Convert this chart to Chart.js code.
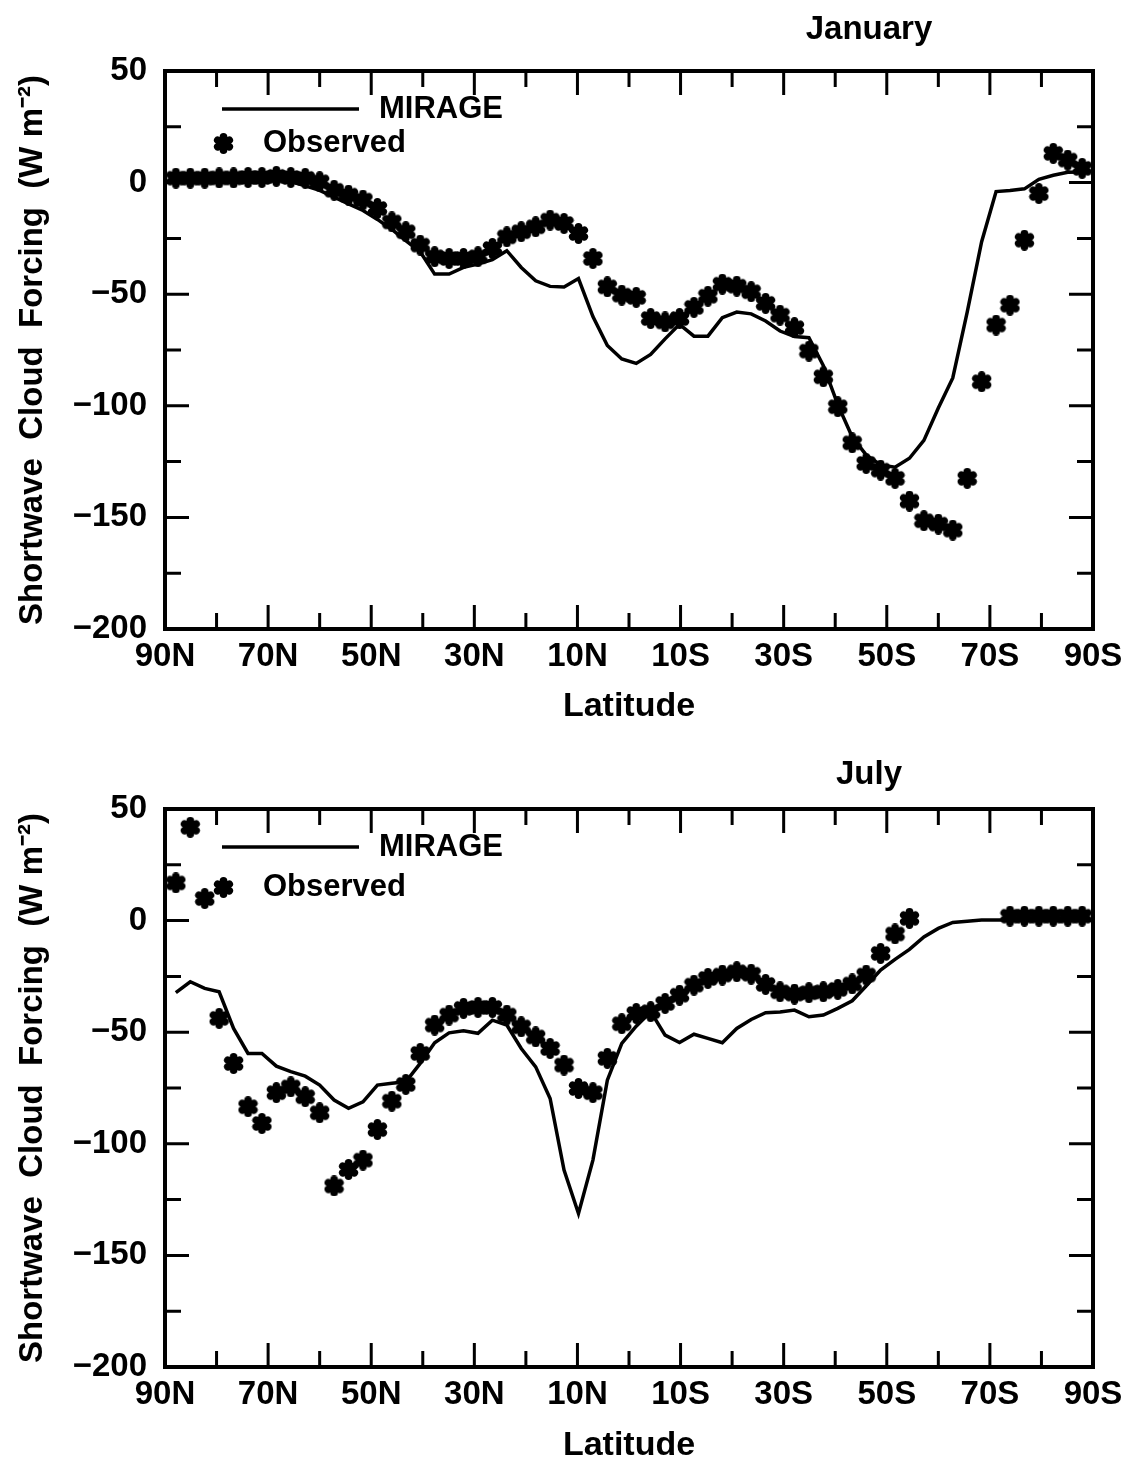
<!DOCTYPE html>
<html>
<head>
<meta charset="utf-8">
<script src="https://cdn.jsdelivr.net/npm/chart.js@4.4.0/dist/chart.umd.min.js"></script>
<style>
  html, body { margin: 0; padding: 0; background: #fff; overflow: hidden; }
  .panel { position: absolute; left: 0; }
</style>
</head>
<body>
<div class="panel" style="top:0"><canvas id="jan" width="1133" height="740"></canvas></div>
<div class="panel" style="top:740px"><canvas id="jul" width="1133" height="722"></canvas></div>
<script>
// model grid latitudes (N positive)
const latitudes = [
  87.9, 85.1, 82.3, 79.5, 76.7, 73.9, 71.2, 68.4, 65.6, 62.8, 60.0, 57.2, 54.4, 51.6, 48.8, 46.0,
  43.3, 40.5, 37.7, 34.9, 32.1, 29.3, 26.5, 23.7, 20.9, 18.1, 15.3, 12.6, 9.8, 7.0, 4.2, 1.4,
  -1.4, -4.2, -7.0, -9.8, -12.6, -15.3, -18.1, -20.9, -23.7, -26.5, -29.3, -32.1, -34.9, -37.7, -40.5, -43.3,
  -46.0, -48.8, -51.6, -54.4, -57.2, -60.0, -62.8, -65.6, -68.4, -71.2, -73.9, -76.7, -79.5, -82.3, -85.1, -87.9
];

// January
const janMirage = [
  2, 2, 2, 2, 2, 2, 2, 1.5, 0.5, -1.5, -3.5, -6.5, -9.5, -12.5, -16.5, -21,
  -26, -31, -41, -41, -38, -36.5, -34.5, -30.5, -38, -44, -46.5, -46.8, -43, -60, -73, -79,
  -81, -77, -70, -63.5, -68.8, -68.8, -60.5, -58, -58.8, -62, -66.5, -69, -69.5, -82, -99.5, -114,
  -122, -126.5, -127.5, -123.5, -115.5, -101, -87.5, -58, -26.5, -4, -3.5, -2.8, 1.5, 3.3, 4.6, 4.8
];
const janObserved = [
  2, 2, 2, 2.1, 2.1, 2.3, 2.3, 2.8, 2.3, 1.9, 0.4, -3.4, -5.6, -7.8, -11.6, -17.6,
  -22, -28, -33.2, -34, -34, -33.2, -29.5, -24.3, -22, -19.8, -16.8, -18.3, -22.8, -34, -46.7, -50.4,
  -51.4, -60.9, -62.4, -60.9, -55.9, -50.9, -45.5, -46.4, -48.9, -54.1, -59.4, -65, -75.5, -87, -100.4, -116.6,
  -125.8, -128.8, -132.5, -142.7, -151.5, -153, -155.7, -132.5, -89.2, -63.8, -54.9, -25.8, -4.9, 13.1, 10.1, 6.4
];

// July
const julMirage = [
  -32.3, -27.4, -30.4, -31.9, -48.3, -59.5, -59.5, -65.2, -67.7, -69.7, -73.7, -80.4, -84.1, -81.2, -73.7, -72.9,
  -72.2, -64.0, -54.7, -50.3, -49.4, -50.5, -44.6, -46.8, -57.3, -65.5, -79.7, -111.8, -131.2, -107.3, -71.5, -55.0,
  -47.3, -40.8, -51.3, -54.6, -50.9, -52.8, -54.7, -48.3, -44.3, -41.3, -40.9, -40.1, -43.1, -42.3, -39.3, -35.9,
  -29.3, -22.2, -17.4, -12.9, -7.3, -3.5, -0.8, -0.3, 0.3, 0.3, 0.3, 0.3, 0.3, 0.3, 0.3, 0.3
];
const julObserved = [
  16.9, 41.8, 9.9, -43.8, -64.0, -83.4, -90.9, -77.1, -74.5, -78.9, -86.1, -118.9, -111.5, -107.3, -93.6, -80.9,
  -73.4, -59.5, -46.8, -42.3, -39.3, -38.9, -38.9, -42.3, -47.6, -52.1, -57.3, -64.7, -75.2, -77.1, -61.7, -46.2,
  -41.6, -40.8, -37.1, -33.4, -28.9, -25.9, -24.4, -22.9, -24.0, -28.6, -31.9, -32.9, -32.3, -31.9, -30.8, -28.4,
  -24.4, -14.7, -6.0, 1.0, null, null, null, null, null, null, 2.0, 2.0, 2.0, 2.0, 2.0, 2.0
];

// axis ticks
const latTickValues = [90, 70, 50, 30, 10, -10, -30, -50, -70, -90];
const latTickLabels = ['90N', '70N', '50N', '30N', '10N', '10S', '30S', '50S', '70S', '90S'];
const forcingTickValues = [50, 0, -50, -100, -150, -200];
const forcingTickLabels = ['50', '0', '−50', '−100', '−150', '−200'];

const FONT = '"Liberation Sans", Arial, sans-serif';

// bold six-armed asterisk used for observed points
function makeStar(size) {
  const c = document.createElement('canvas');
  c.width = c.height = size;
  const g = c.getContext('2d');
  const r = size / 2;
  g.translate(r, r);
  g.strokeStyle = '#000';
  g.fillStyle = '#000';
  g.lineWidth = size * 0.36;
  g.lineCap = 'round';
  for (let k = 0; k < 3; k++) {
    const a = Math.PI / 2 + k * Math.PI / 3;
    const d = r - g.lineWidth / 2;
    g.beginPath();
    g.moveTo(Math.cos(a) * d, Math.sin(a) * d);
    g.lineTo(-Math.cos(a) * d, -Math.sin(a) * d);
    g.stroke();
  }
  g.beginPath();
  g.arc(0, 0, r * 0.6, 0, Math.PI * 2);
  g.fill();
  return c;
}
const star = makeStar(21);

// frame, inward ticks, legend and month title
const panelPlugin = {
  id: 'panel',
  afterDraw(chart, args, opts) {
    const { ctx, chartArea: a, scales: { x, y } } = chart;
    ctx.save();
    ctx.strokeStyle = '#000';
    ctx.lineWidth = 3;
    ctx.beginPath();
    for (let v = x.min + 10; v < x.max; v += 10) {
      const px = x.getPixelForValue(v);
      const len = latTickValues.includes(v) ? 24 : 16;
      ctx.moveTo(px, a.bottom); ctx.lineTo(px, a.bottom - len);
      ctx.moveTo(px, a.top); ctx.lineTo(px, a.top + len);
    }
    for (let v = y.min + 25; v < y.max; v += 25) {
      const py = y.getPixelForValue(v);
      const len = forcingTickValues.includes(v) ? 24 : 16;
      ctx.moveTo(a.left, py); ctx.lineTo(a.left + len, py);
      ctx.moveTo(a.right, py); ctx.lineTo(a.right - len, py);
    }
    ctx.stroke();
    ctx.lineWidth = 4;
    ctx.strokeRect(a.left, a.top, a.right - a.left, a.bottom - a.top);

    // legend
    ctx.fillStyle = '#000';
    ctx.lineWidth = 3.5;
    ctx.beginPath();
    ctx.moveTo(a.left + 57, a.top + opts.lineRow);
    ctx.lineTo(a.left + 194, a.top + opts.lineRow);
    ctx.stroke();
    ctx.font = 'bold 31px ' + FONT;
    ctx.textBaseline = 'middle';
    ctx.textAlign = 'left';
    ctx.fillText(chart.data.datasets[0].label, a.left + 214, a.top + opts.lineRow);
    ctx.drawImage(star, a.left + 58 - 10, a.top + opts.starRow - 10);
    ctx.fillText(chart.data.datasets[1].label, a.left + 98, a.top + opts.starRow);

    // month
    ctx.font = 'bold 33px ' + FONT;
    ctx.textAlign = 'center';
    ctx.fillText(opts.month, opts.monthX, opts.monthY);
    ctx.restore();
  }
};

function makePanel(id, month, mirage, observed, opts) {
  const tickFont = { family: FONT, size: 33, weight: 'bold' };
  new Chart(document.getElementById(id), {
    type: 'line',
    data: {
      datasets: [
        {
          label: 'MIRAGE',
          data: latitudes.map((lat, i) => ({ x: lat, y: mirage[i] })),
          borderColor: '#000',
          borderWidth: 3.5,
          pointRadius: 0,
          tension: 0,
          fill: false
        },
        {
          label: 'Observed',
          data: latitudes.map((lat, i) => ({ x: lat, y: observed[i] })),
          showLine: false,
          pointStyle: star,
          pointRadius: 10,
          clip: false
        }
      ]
    },
    options: {
      responsive: false,
      animation: false,
      events: [],
      layout: { autoPadding: false, padding: { top: opts.top, right: 40, left: 0, bottom: 0 } },
      plugins: {
        legend: { display: false },
        tooltip: { enabled: false },
        panel: { month: month, monthX: 869, monthY: opts.monthY, lineRow: 38, starRow: opts.starRow }
      },
      scales: {
        x: {
          type: 'linear',
          min: -90,
          max: 90,
          reverse: true,
          grid: { display: false, drawTicks: false },
          border: { display: false },
          ticks: {
            stepSize: 20,
            autoSkip: false,
            maxRotation: 0,
            padding: 8,
            color: '#000',
            font: tickFont,
            callback: v => latTickLabels[latTickValues.indexOf(v)]
          },
          title: {
            display: true,
            text: 'Latitude',
            color: '#000',
            font: { family: FONT, size: 34, weight: 'bold', lineHeight: 1 },
            padding: { top: 0, bottom: opts.titlePad }
          },
          afterFit: s => { s.height = opts.xHeight; s.paddingLeft = 0; s.paddingRight = 0; }
        },
        y: {
          type: 'linear',
          min: -200,
          max: 50,
          grid: { display: false, drawTicks: false },
          border: { display: false },
          ticks: {
            stepSize: 50,
            padding: 18,
            color: '#000',
            font: tickFont,
            callback: v => forcingTickLabels[forcingTickValues.indexOf(v)]
          },
          title: {
            display: true,
            text: 'Shortwave  Cloud  Forcing  (W m⁻²)',
            color: '#000',
            font: { family: FONT, size: 33, weight: 'bold', lineHeight: 1 },
            padding: { top: 16, bottom: 0 }
          },
          afterFit: s => { s.width = 165; s.paddingTop = 0; s.paddingBottom = 0; }
        }
      }
    },
    plugins: [panelPlugin]
  });
}

makePanel('jan', 'January', janMirage, janObserved,
  { top: 71, xHeight: 111, titlePad: 16, monthY: 30, starRow: 72 });
makePanel('jul', 'July', julMirage, julObserved,
  { top: 69, xHeight: 95, titlePad: -1, monthY: 35, starRow: 78 });
</script>
</body>
</html>
